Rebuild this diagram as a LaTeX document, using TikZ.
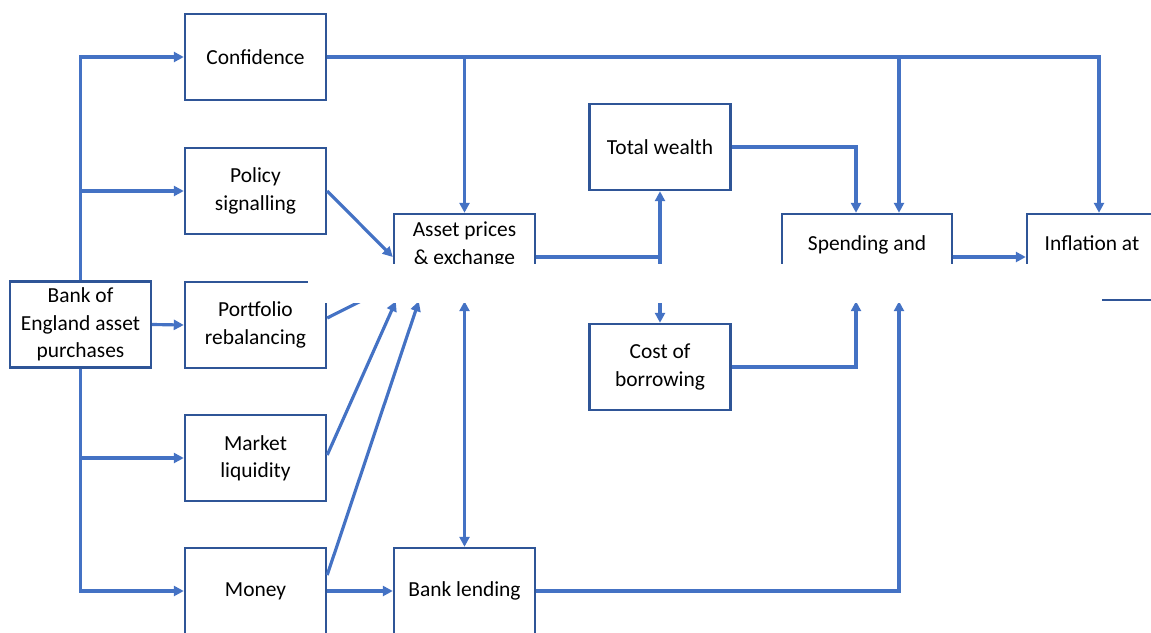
\documentclass[tikz,border=0pt]{standalone}
\usepackage{fontspec}
\setmainfont{Carlito}
\usepackage{tikz}
\usetikzlibrary{arrows.meta,positioning,calc}
\definecolor{LinkBlue}{RGB}{68,114,196}
\definecolor{EdgeBlue}{RGB}{47,85,151}
\tikzset{
  box/.style={draw=EdgeBlue,fill=white,line width=1.4pt,inner sep=0pt,
    minimum width=2.82cm,minimum height=1.72cm,align=center,
    font=\fontsize{12.2}{15.6}\selectfont},
  widebox/.style={box,minimum width=3.4cm},
  endbox/.style={box,minimum width=2.6cm},
  link/.style={-{Triangle[length=0.2cm,width=0.2cm]},line width=1.8pt,LinkBlue},
  twoway/.style={{Triangle[length=0.2cm,width=0.2cm]}-{Triangle[length=0.2cm,width=0.2cm]},
    line width=1.8pt,LinkBlue}
}
\begin{document}
\begin{tikzpicture}[x=0.02cm,y=-0.02cm]
\useasboundingbox (0,0) rectangle (1151,632);
\node[box] (boe) at (80.5,324.5) {Bank of\\England asset\\purchases};
\node[box] (conf) at (255.5,57) {Confidence};
\node[box] (policy) at (255.5,191) {Policy\\signalling};
\node[box] (portf) at (255.5,325) {Portfolio\\rebalancing};
\node[box] (liq) at (255.5,458) {Market\\liquidity};
\node[box] (money) at (255.5,591) {Money};
\node[box] (asset) at (464.5,257) {Asset prices\\\& exchange\\\phantom{rates}};
\node[box] (lending) at (464.5,591) {Bank lending};
\node[box] (wealth) at (660,147) {Total wealth};
\node[box] (cost) at (660,367) {Cost of\\borrowing};
\node[widebox] (spend) at (867,257) {Spending and\\\phantom{income}};
\node[endbox] (infl) at (1092,257) {Inflation at\\\phantom{2}};
\coordinate (spin1) at ([xshift=-0.22cm]spend.north);
\coordinate (spin2) at ([xshift=0.64cm]spend.north);
\coordinate (spout1) at ([xshift=-0.22cm]spend.south);
\coordinate (spout2) at ([xshift=0.64cm]spend.south);
\coordinate (infin) at ([xshift=0.14cm]infl.north);

\draw[link] (boe.north) |- (conf.west);
\draw[link] (boe.north) |- (policy.west);
\draw[link] (boe.east) -- (portf.west);
\draw[link] (boe.south) |- (liq.west);
\draw[link] (boe.south) |- (money.west);

\draw[link] (conf.east) -| (infin);
\draw[link] (conf.east -| asset.north) -- (asset.north);
\draw[link] (conf.east -| spin2) -- (spin2);

\draw[link] (policy.east) -- (asset.west);
\draw[link] ([yshift=0.14cm]portf.east) -- ([yshift=-0.56cm]asset.west);
\draw[link] ([yshift=0.06cm]liq.east) -- ([xshift=0.06cm]asset.south west);
\draw[link] ([yshift=0.32cm]money.east) -- ([xshift=0.52cm]asset.south west);
\draw[link] (money.east) -- (lending.west);
\draw[twoway] (asset.south) -- (lending.north);

\draw[link] (asset.east) -| (wealth.south);
\draw[link] (asset.east) -| (cost.north);
\draw[link] (wealth.east) -| (spin1);
\draw[link] (cost.east) -| (spout1);
\draw[link] (lending.east) -| (spout2);
\draw[link] (spend.east) -- (infl.west);

\fill[white] (308,264) rectangle (1102,303);
\end{tikzpicture}
\end{document}
